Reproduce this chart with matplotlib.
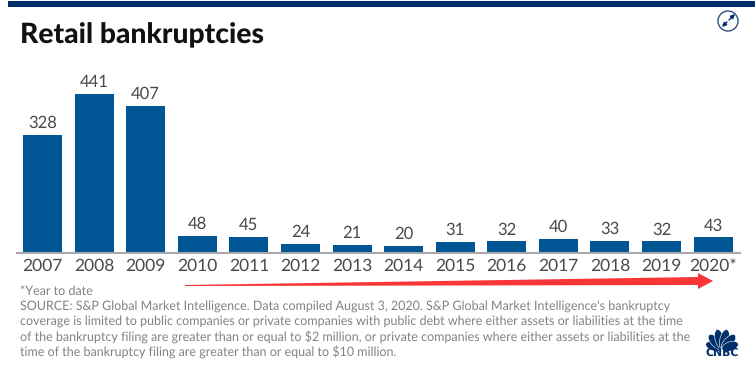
import math
import matplotlib
matplotlib.use("Agg")
import matplotlib.pyplot as plt
from matplotlib.patches import Circle, Ellipse, Polygon, Rectangle

W, H = 755, 369

years = ["2007", "2008", "2009", "2010", "2011", "2012", "2013",
         "2014", "2015", "2016", "2017", "2018", "2019", "2020*"]
bankruptcies = [328, 441, 407, 48, 45, 24, 21, 20, 31, 32, 40, 33, 32, 43]

title = "Retail bankruptcies"
footnote = [
    "*Year to date",
    "SOURCE: S&P Global Market Intelligence. Data compiled August 3, 2020. S&P Global Market Intelligence's bankruptcy",
    "coverage is limited to public companies or private companies with public debt where either assets or liabilities at the time",
    "of the bankruptcy filing are greater than or equal to $2 million, or private companies where either assets or liabilities at the",
    "time of the bankruptcy filing are greater than or equal to $10 million.",
]

NAVY = "#002f6c"
BLUE = "#005594"
LABEL = "#4a4a4a"
GRAY = "#808285"

plt.rcParams["font.family"] = ["Lato", "DejaVu Sans"]
plt.rcParams["text.hinting"] = "no_hinting"

fig = plt.figure(figsize=(W / 100, H / 100), dpi=100, facecolor="w")

# bars: axes box runs from the left end of the baseline to the right end
ax = fig.add_axes([17 / W, 1 - 253 / H, (740 - 17) / W, (253 - 94) / H])
x = list(range(len(years)))
ax.bar(x, bankruptcies, width=0.756, color=BLUE)
ax.set_xlim(-0.494, 13.52)
ax.set_ylim(0, 441)
ax.set_xticks(x, years)
ax.set_yticks([])
ax.tick_params(axis="x", length=0, pad=3.5, labelsize=12.5, labelcolor=LABEL)
for s in ["top", "left", "right"]:
    ax.spines[s].set_visible(False)
ax.spines["bottom"].set_color("#a7a9ac")
ax.spines["bottom"].set_linewidth(1.5)
ax.patch.set_alpha(0)
for xi, v in zip(x, bankruptcies):
    ax.annotate(str(v), (xi, v), xytext=(0, 3), textcoords="offset points",
                ha="center", va="bottom", fontsize=12, color=LABEL, annotation_clip=False)

# everything else sits on an overlay in pixel coordinates
ov = fig.add_axes([0, 0, 1, 1], zorder=3)
ov.set_xlim(0, W)
ov.set_ylim(H, 0)
ov.axis("off")
ov.patch.set_alpha(0)

ov.add_patch(Rectangle((8, 1), W - 8, 6, color=NAVY, lw=0))
ov.text(20, 35, title, fontsize=20.3, fontweight="black", color="#111111", va="center", ha="left")

# expand icon
ov.add_patch(Circle((728, 21), 10, fill=False, ec="#2f4f7f", lw=1.0))
ov.annotate("", xy=(735, 14), xytext=(729, 20),
            arrowprops=dict(arrowstyle="-|>", color=NAVY, lw=1.0, mutation_scale=6, shrinkA=0, shrinkB=0))
ov.annotate("", xy=(722, 27), xytext=(727, 22),
            arrowprops=dict(arrowstyle="-|>", color=NAVY, lw=1.0, mutation_scale=6, shrinkA=0, shrinkB=0))

# red arrow drawn over the chart
ov.add_patch(Polygon([(185, 285), (698, 277), (698, 273), (713, 281),
                      (698, 289), (698, 285), (185, 286)], closed=True, color="#f93535", lw=0))

for line, y in zip(footnote, [291, 306, 321, 337, 352]):
    ov.text(20, y + 0.5, line, fontsize=9.0, color=GRAY, va="center", ha="left")

# CNBC peacock
for angle, length in [(-72, 17), (-43, 19), (-14, 20), (14, 20), (43, 19), (72, 17)]:
    t = math.radians(angle)
    cx = 722 + 0.5 * length * math.sin(t)
    cy = 349 - 0.5 * length * math.cos(t)
    ov.add_patch(Ellipse((cx, cy), 9, length, angle=angle, fc=NAVY, ec="w", lw=0.4))
ov.text(722, 352.5, "CNBC", fontsize=7.8, fontweight="bold", color=NAVY, ha="center", va="center",
        family="DejaVu Sans")

fig.savefig("out.png", dpi=100)
